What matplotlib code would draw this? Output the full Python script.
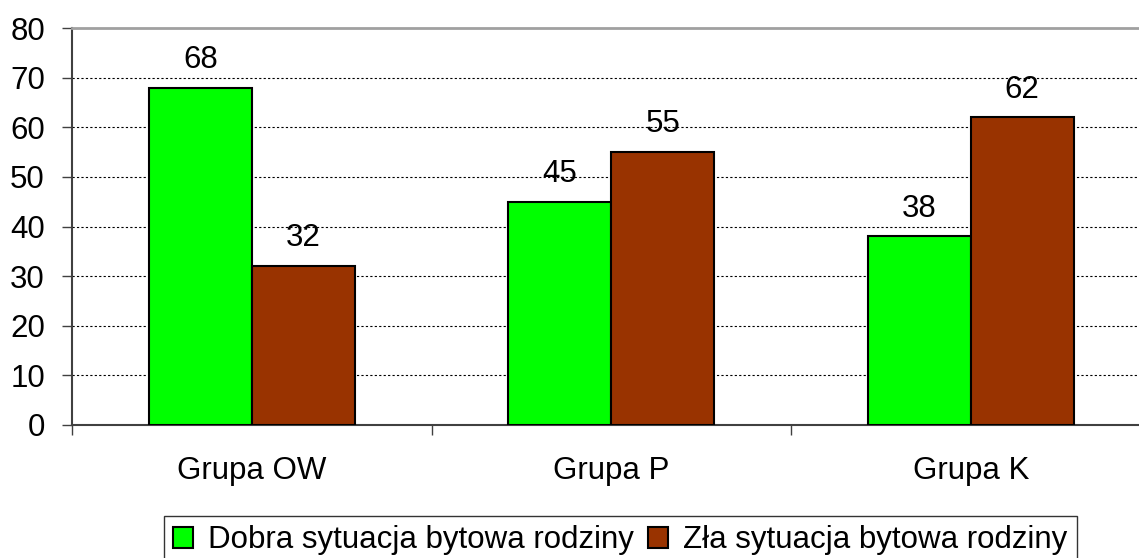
import numpy as np
import matplotlib
matplotlib.use('Agg')
import matplotlib.pyplot as plt

plt.rcParams['font.family'] = ['Liberation Sans', 'DejaVu Sans']

# dane
groups = ['Grupa OW', 'Grupa P', 'Grupa K']
dobra = [68, 45, 38]
zla = [32, 55, 62]
series_names = ['Dobra sytuacja bytowa rodziny', 'Zła sytuacja bytowa rodziny']
yticks = [0, 10, 20, 30, 40, 50, 60, 70, 80]

fs = 22.5

fig = plt.figure(figsize=(11.39, 5.58), dpi=100)
ax = fig.add_axes([72 / 1139, 133 / 558, 1078.5 / 1139, 397 / 558])

x = np.arange(len(groups))
w = 0.286
b1 = ax.bar(x - w / 2, dobra, w, color='#00ff00', edgecolor='black', linewidth=1.5,
            label=series_names[0], zorder=3)
b2 = ax.bar(x + w / 2, zla, w, color='#993300', edgecolor='black', linewidth=1.5,
            label=series_names[1], zorder=3)

for bars in (b1, b2):
    for r in bars:
        ax.annotate(str(int(r.get_height())), (r.get_x() + r.get_width() / 2, r.get_height()),
                    xytext=(0, 20), textcoords='offset points', ha='center', va='center',
                    fontsize=fs, zorder=4)

ax.set_xlim(-0.5, len(groups) - 0.5)
ax.set_ylim(0, 80)
ax.set_yticks(yticks)
ax.tick_params(axis='y', labelsize=fs, length=7.5, width=1, color='#404040', pad=12)
for yv in yticks[1:-1]:
    ax.axhline(yv, color='black', linestyle=(0, (2, 2)), linewidth=0.8, zorder=1)

# kategorie: ticki na granicach, etykiety na środku
ax.set_xticks(np.arange(len(groups) + 1) - 0.5)
ax.set_xticklabels([])
ax.tick_params(axis='x', which='major', length=7.5, width=1, color='#404040')
ax.set_xticks(x, minor=True)
ax.set_xticklabels(groups, minor=True, fontsize=fs)
ax.tick_params(axis='x', which='minor', length=0, pad=22)

ax.spines['left'].set_color('#404040')
ax.spines['left'].set_linewidth(1.5)
ax.spines['bottom'].set_color('#404040')
ax.spines['bottom'].set_linewidth(1.5)
ax.spines['top'].set_color('#a0a0a0')
ax.spines['top'].set_linewidth(2)
ax.spines['right'].set_visible(False)

leg = fig.legend(handles=[b1, b2], labels=series_names, loc='upper left',
                 bbox_to_anchor=(164 / 1139, 1 - 516 / 558), borderaxespad=0,
                 ncol=2, fontsize=fs, frameon=True, fancybox=False,
                 handlelength=0.62, handleheight=0.62, handletextpad=0.5,
                 columnspacing=0.45, borderpad=0.3)
leg.get_frame().set_edgecolor('black')
leg.get_frame().set_linewidth(1)

fig.savefig('out.png', dpi=100)
